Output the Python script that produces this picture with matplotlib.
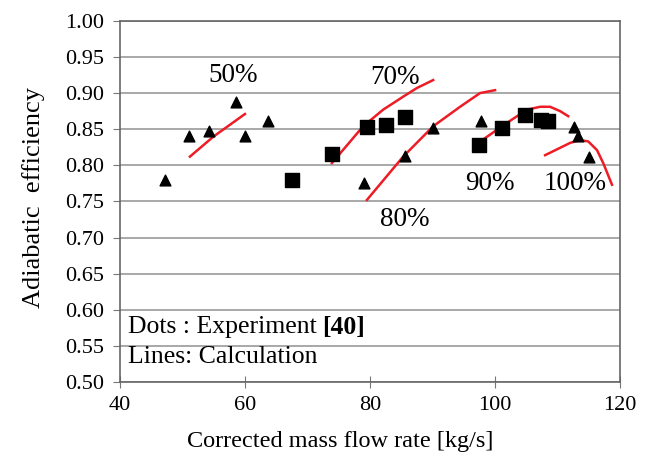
import matplotlib
matplotlib.use("Agg")
import matplotlib.pyplot as plt

# Experimental data (dots)
tri_x = [47.2, 51.0, 54.2, 58.6, 60.0, 63.7, 79.0, 85.6, 90.0, 97.8, 112.6, 113.3, 115.0]
tri_y = [0.780, 0.840, 0.848, 0.888, 0.840, 0.862, 0.776, 0.813, 0.852, 0.862, 0.853, 0.840, 0.811]
sq_x = [67.5, 74.0, 79.5, 82.6, 85.6, 97.4, 101.1, 104.8, 107.4, 108.5]
sq_y = [0.779, 0.816, 0.853, 0.856, 0.867, 0.828, 0.851, 0.869, 0.863, 0.861]

# Calculated lines
l50_x = [51.2, 55.0, 60.0]
l50_y = [0.812, 0.840, 0.871]
l70_x = [73.9, 78.9, 82.1, 85.3, 87.5, 90.1]
l70_y = [0.803, 0.854, 0.877, 0.895, 0.907, 0.918]
l80_x = [79.5, 85.3, 90.1, 94.4, 97.6, 100.0]
l80_y = [0.752, 0.812, 0.854, 0.881, 0.900, 0.904]
l90_x = [97.3, 101.6, 105.1, 107.2, 108.8, 110.4, 111.7]
l90_y = [0.831, 0.857, 0.877, 0.881, 0.881, 0.875, 0.868]
l100_x = [108.0, 112.0, 113.6, 114.9, 116.3, 117.3, 118.7]
l100_y = [0.814, 0.831, 0.835, 0.833, 0.821, 0.803, 0.773]

speed_labels = ["50%", "70%", "80%", "90%", "100%"]
label_x = [58.1, 84.0, 85.6, 99.2, 112.8]
label_y = [0.925, 0.922, 0.725, 0.775, 0.775]

yticks = [0.50, 0.55, 0.60, 0.65, 0.70, 0.75, 0.80, 0.85, 0.90, 0.95, 1.00]
xticks = [40, 60, 80, 100, 120]

plt.rcParams['font.family'] = ['Liberation Serif', 'DejaVu Serif']

fig = plt.figure(figsize=(6.48, 4.63), dpi=100)
ax = fig.add_axes([0.185, 0.175, 0.772, 0.78])

for y in yticks:
    ax.axhline(y, color='#999999', lw=1.2, zorder=0)

for lx, ly in [(l50_x, l50_y), (l70_x, l70_y), (l80_x, l80_y), (l90_x, l90_y), (l100_x, l100_y)]:
    ax.plot(lx, ly, color='#ee1c25', lw=1.8, zorder=2, solid_joinstyle='round')

ax.scatter(tri_x, tri_y, marker='^', s=60, color='black', zorder=3)
ax.scatter(sq_x, sq_y, marker='s', s=90, color='black', zorder=3)

for t, x, y in zip(speed_labels, label_x, label_y):
    ax.text(x, y, t, fontsize=19.5, ha='center', va='center', zorder=4)

t1 = ax.text(41.3, 0.576, "Dots : Experiment", fontsize=18.5, ha='left', va='center')
ax.annotate("[40]", xy=(1, 0.5), xycoords=t1, xytext=(4, 0), textcoords='offset points',
            fontsize=18.5, ha='left', va='center', fontweight='bold')
ax.text(41.3, 0.535, "Lines: Calculation", fontsize=18.5, ha='left', va='center')

ax.set_xlim(40, 120)
ax.set_ylim(0.50, 1.00)
ax.set_xticks(xticks)
ax.set_yticks(yticks)
ax.set_yticklabels([f"{v:.2f}" for v in yticks])
ax.tick_params(axis='both', labelsize=16, color='#777777', direction='out', length=5)
ax.tick_params(axis='x', direction='inout', length=8, pad=6)
ax.tick_params(axis='y', pad=6)
for s in ax.spines.values():
    s.set_color('#666666')
    s.set_linewidth(1.2)

ax.set_xlabel("Corrected mass flow rate [kg/s]", fontsize=17.5)
ax.xaxis.set_label_coords(0.44, -0.135)
ax.set_ylabel("Adiabatic  efficiency", fontsize=19)
ax.yaxis.set_label_coords(-0.15, 0.51)

fig.savefig("out.png", dpi=100)
